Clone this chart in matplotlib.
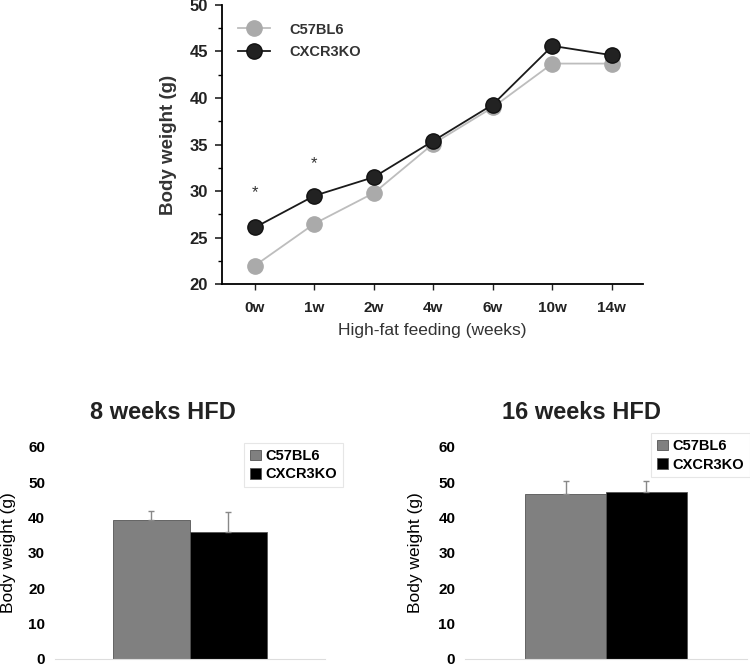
import numpy as np
import matplotlib
matplotlib.use('Agg')
import matplotlib.pyplot as plt

plt.rcParams['font.family'] = ['Liberation Sans', 'DejaVu Sans']

# time course data
weeks = ['0w', '1w', '2w', '4w', '6w', '10w', '14w']
wt_weight = [22.0, 26.5, 29.8, 35.1, 39.0, 43.7, 43.7]
ko_weight = [26.1, 29.5, 31.5, 35.4, 39.3, 45.6, 44.6]
star_weeks = ['0w', '1w']
star_y = [29.8, 32.9]

# bar data
groups = ['C57BL6', 'CXCR3KO']
hfd8_mean = [39.4, 36.0]
hfd8_err = [2.4, 5.5]
hfd16_mean = [46.6, 47.3]
hfd16_err = [3.7, 3.0]
bar_colors = ['#808080', '#000000']

fig = plt.figure(figsize=(7.5, 6.67), dpi=100)

# top line chart
ax = fig.add_axes([0.296, 0.574, 0.561, 0.4186])
x = np.arange(len(weeks))
ax.plot(x, wt_weight, '-o', color='#bdbdbd', mfc='#aaaaaa', mec='#aaaaaa',
        ms=11, lw=1.3, label='C57BL6', zorder=2)
ax.plot(x, ko_weight, '-o', color='#1a1a1a', mfc='#222222', mec='#111111',
        ms=11, lw=1.3, label='CXCR3KO', zorder=3)
for w, sy in zip(star_weeks, star_y):
    ax.text(weeks.index(w), sy, '*', ha='center', va='center', fontsize=12, color='#333333')
ax.set_xlim(-0.555, 6.52)
ax.set_ylim(20, 50)
ax.set_xticks(x)
ax.set_xticklabels(weeks, fontsize=11, fontweight='bold', color='#333333')
ax.set_yticks(np.arange(20, 51, 5))
ax.set_yticks(np.arange(20, 50, 2.5), minor=True)
ax.tick_params(axis='y', labelsize=12, width=1.2, length=5, pad=5, colors='#222222')
ax.tick_params(axis='y', which='minor', length=3, width=1)
ax.tick_params(axis='x', length=4, width=1, pad=8, colors='#222222')
for lab in ax.get_yticklabels():
    lab.set_fontweight('bold')
ax.spines['top'].set_visible(False)
ax.spines['right'].set_visible(False)
ax.spines['left'].set_linewidth(1.3)
ax.spines['bottom'].set_linewidth(1.3)
ax.set_ylabel('Body weight (g)', fontsize=13.5, fontweight='bold', color='#333333', labelpad=9)
ax.set_xlabel('High-fat feeding (weeks)', fontsize=12.5, color='#333333', labelpad=6)
leg = ax.legend(loc='upper left', frameon=False, prop={'weight': 'bold', 'size': 10.5},
                handlelength=2.2, handletextpad=1.3, borderaxespad=0, borderpad=0,
                bbox_to_anchor=(0.038, 0.937), labelspacing=0.6)
for t in leg.get_texts():
    t.set_color('#333333')


def bar_panel(rect, means, errs, title, title_x, leg_anchor, ypad):
    bx = fig.add_axes(rect)
    pos = [-0.5, 0.5]
    for p, m, e, c, g in zip(pos, means, errs, bar_colors, groups):
        bx.bar(p, m, width=1.0, color=c, edgecolor='#555555', lw=0.6, label=g, zorder=2)
        bx.errorbar(p, m, yerr=[[0], [e]], fmt='none', ecolor='#888888',
                    elinewidth=1, capsize=2, capthick=1, zorder=3)
    bx.set_xlim(-1.75, 1.75)
    bx.set_ylim(0, 60)
    bx.set_xticks([])
    bx.set_yticks(np.arange(0, 61, 10))
    bx.tick_params(axis='y', length=0, labelsize=11, pad=7)
    for lab in bx.get_yticklabels():
        lab.set_fontweight('bold')
    for s in ['top', 'right', 'left']:
        bx.spines[s].set_visible(False)
    bx.spines['bottom'].set_color('#dddddd')
    bx.set_ylabel('Body weight (g)', fontsize=12.5, labelpad=ypad)
    fig.text(title_x, 0.382, title, fontsize=17, fontweight='bold', color='#222222',
             ha='center', va='center')
    leg = bx.legend(loc='upper right', bbox_to_anchor=leg_anchor,
                    prop={'weight': 'bold', 'size': 10.5}, handlelength=0.75, handleheight=0.75,
                    handletextpad=0.3, labelspacing=0.3, borderpad=0.4, borderaxespad=0,
                    fancybox=False, edgecolor='#e6e6e6', framealpha=1)
    leg.get_frame().set_linewidth(0.8)
    return bx


bar_panel([0.073, 0.012, 0.36, 0.318], hfd8_mean, hfd8_err, '8 weeks HFD', 0.217,
          (1.067, 1.017), 9)
bar_panel([0.62, 0.012, 0.376, 0.318], hfd16_mean, hfd16_err, '16 weeks HFD', 0.775,
          (1.01, 1.064), 11)

fig.savefig('out.png', dpi=100)
